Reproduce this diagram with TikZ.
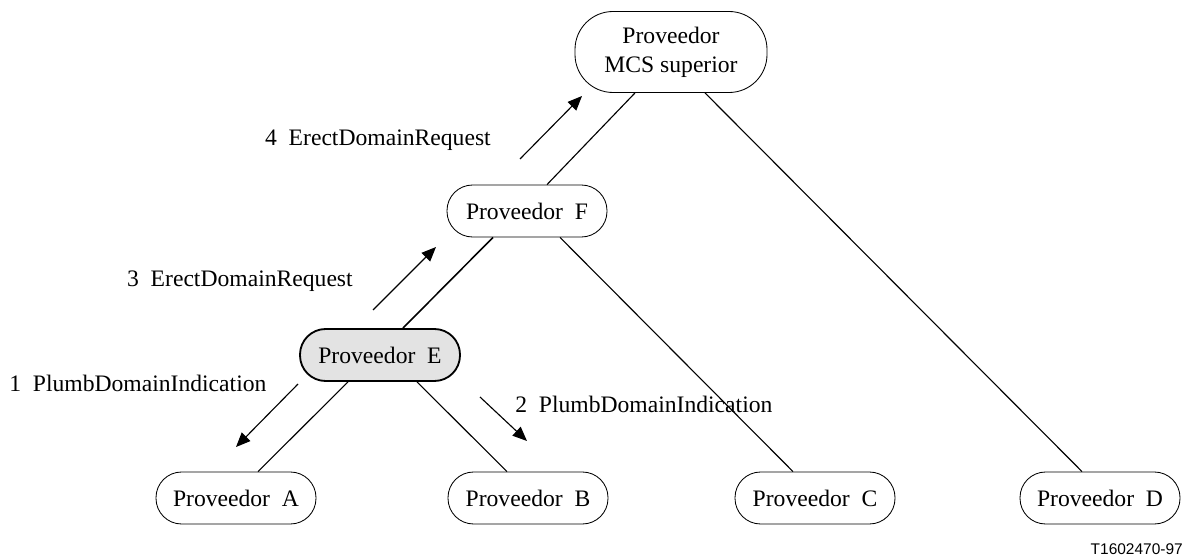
\documentclass[tikz,border=0pt]{standalone}
\usepackage{fontspec}
\setmainfont{Liberation Serif}
\setsansfont{Liberation Sans}
\usetikzlibrary{arrows.meta, positioning}

\begin{document}
\begin{tikzpicture}[
    txt/.style={font=\fontsize{16.8}{20.6}\selectfont},
    prov/.style={rectangle, rounded corners=0.64cm, draw=black, line width=0.6pt, minimum width=4cm, minimum height=1.3cm, align=center, txt},
    active/.style={prov, fill=black!11, line width=1.3pt},
    link/.style={-, line width=0.8pt},
    msg/.style={-{Triangle[length=3.6mm, width=3mm]}, line width=0.8pt},
    lbl/.style={txt, inner sep=0pt}
]
\useasboundingbox (0,0) rectangle (29.6,-13.95);

% Providers
\node[prov, minimum width=4.8cm, minimum height=2.025cm, rounded corners=0.95cm] (sup) at (16.775,-1.3) {Proveedor\\MCS superior};
\node[prov] (provF) at (13.175,-5.275) {Proveedor~~F};
\node[active] (provE) at (9.5,-8.875) {Proveedor~~E};
\node[prov] (provA) at (5.9,-12.45) {Proveedor~~A};
\node[prov] (provB) at (13.2,-12.45) {Proveedor~~B};
\node[prov] (provC) at (20.375,-12.45) {Proveedor~~C};
\node[prov] (provD) at (27.5,-12.45) {Proveedor~~D};

% Links
\draw[link] ([xshift=-0.9cm]sup.south) -- ([xshift=0.5cm]provF.north);
\draw[link] ([xshift=0.85cm]sup.south) -- ([xshift=-0.45cm]provD.north);
\draw[link, line width=1.1pt] ([xshift=-0.85cm]provF.south) -- ([xshift=0.575cm]provE.north);
\draw[link] ([xshift=0.825cm]provF.south) -- ([xshift=-0.55cm]provC.north);
\draw[link] ([xshift=-0.8cm]provE.south) -- ([xshift=0.55cm]provA.north);
\draw[link] ([xshift=0.925cm]provE.south) -- ([xshift=-0.525cm]provB.north);

% Messages
\coordinate (m1a) at (7.45,-9.6);
\coordinate (m1b) at (5.9,-11.175);
\coordinate (m2a) at (12.0,-9.925);
\coordinate (m2b) at (13.175,-11.025);
\coordinate (m3a) at (9.325,-7.75);
\coordinate (m3b) at (10.9,-6.175);
\coordinate (m4a) at (13.0,-3.975);
\coordinate (m4b) at (14.55,-2.4);
\draw[msg] (m1a) -- (m1b);
\draw[msg] (m2a) -- (m2b);
\draw[msg] (m3a) -- (m3b);
\draw[msg] (m4a) -- (m4b);

\node[lbl, anchor=base west] (l1) at (0.225,-9.775) {1~~PlumbDomainIndication};
\node[lbl, anchor=base west] (l2) at (12.875,-10.3) {2~~PlumbDomainIndication};
\node[lbl, anchor=base east] (l3) at (8.825,-7.15) {3~~ErectDomainRequest};
\node[lbl, anchor=base east] (l4) at (12.275,-3.65) {4~~ErectDomainRequest};

\node[anchor=east, inner sep=0pt, font=\sffamily\fontsize{11}{13}\selectfont] (ref) at (29.575,-13.72) {T1602470-97};

\end{tikzpicture}
\end{document}
